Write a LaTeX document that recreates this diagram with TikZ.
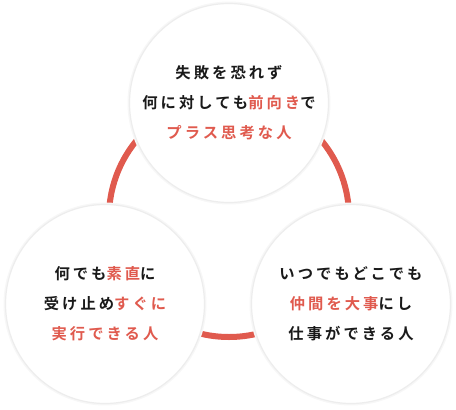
\documentclass[tikz,border=0pt]{standalone}
\usepackage{fontspec}
\usepackage{xcolor}
\usetikzlibrary{positioning}
\newfontfamily\jpfont[LetterSpace=20,BoldFont={Noto Sans CJK JP Bold}]{Noto Sans CJK JP}
\definecolor{accent}{HTML}{E05A4E}
\definecolor{ink}{HTML}{1A1A1A}
\newcommand{\hl}[1]{\textcolor{accent}{#1}}

\begin{document}
\begin{tikzpicture}[
    x=1pt, y=-1pt,
    bubble/.style={circle, fill=white, draw=black!7, line width=1.2pt, minimum size=199pt, inner sep=0pt,
        preaction={draw=black!3, line width=4pt},
        align=center, text=ink, font=\jpfont\bfseries\fontsize{15.3}{30}\selectfont},
    ring/.style={draw=accent, line width=6pt}
]
\useasboundingbox (0,0) rectangle (456,410);

\coordinate (hub) at (229,217);
\draw[ring] (hub) circle[radius=120pt];

\node[bubble] (mindset) at (229,103) {失敗を恐れず\\何に対しても\hl{前向き}で\\\hl{プラス思考な人}};
\node[bubble] (action) at (105,304) {何でも\hl{素直}に\\受け止め\hl{すぐに}\\\hl{実行できる人}};
\node[bubble] (team) at (351,304) {いつでもどこでも\\\hl{仲間を大事}にし\\仕事ができる人};
\end{tikzpicture}
\end{document}
